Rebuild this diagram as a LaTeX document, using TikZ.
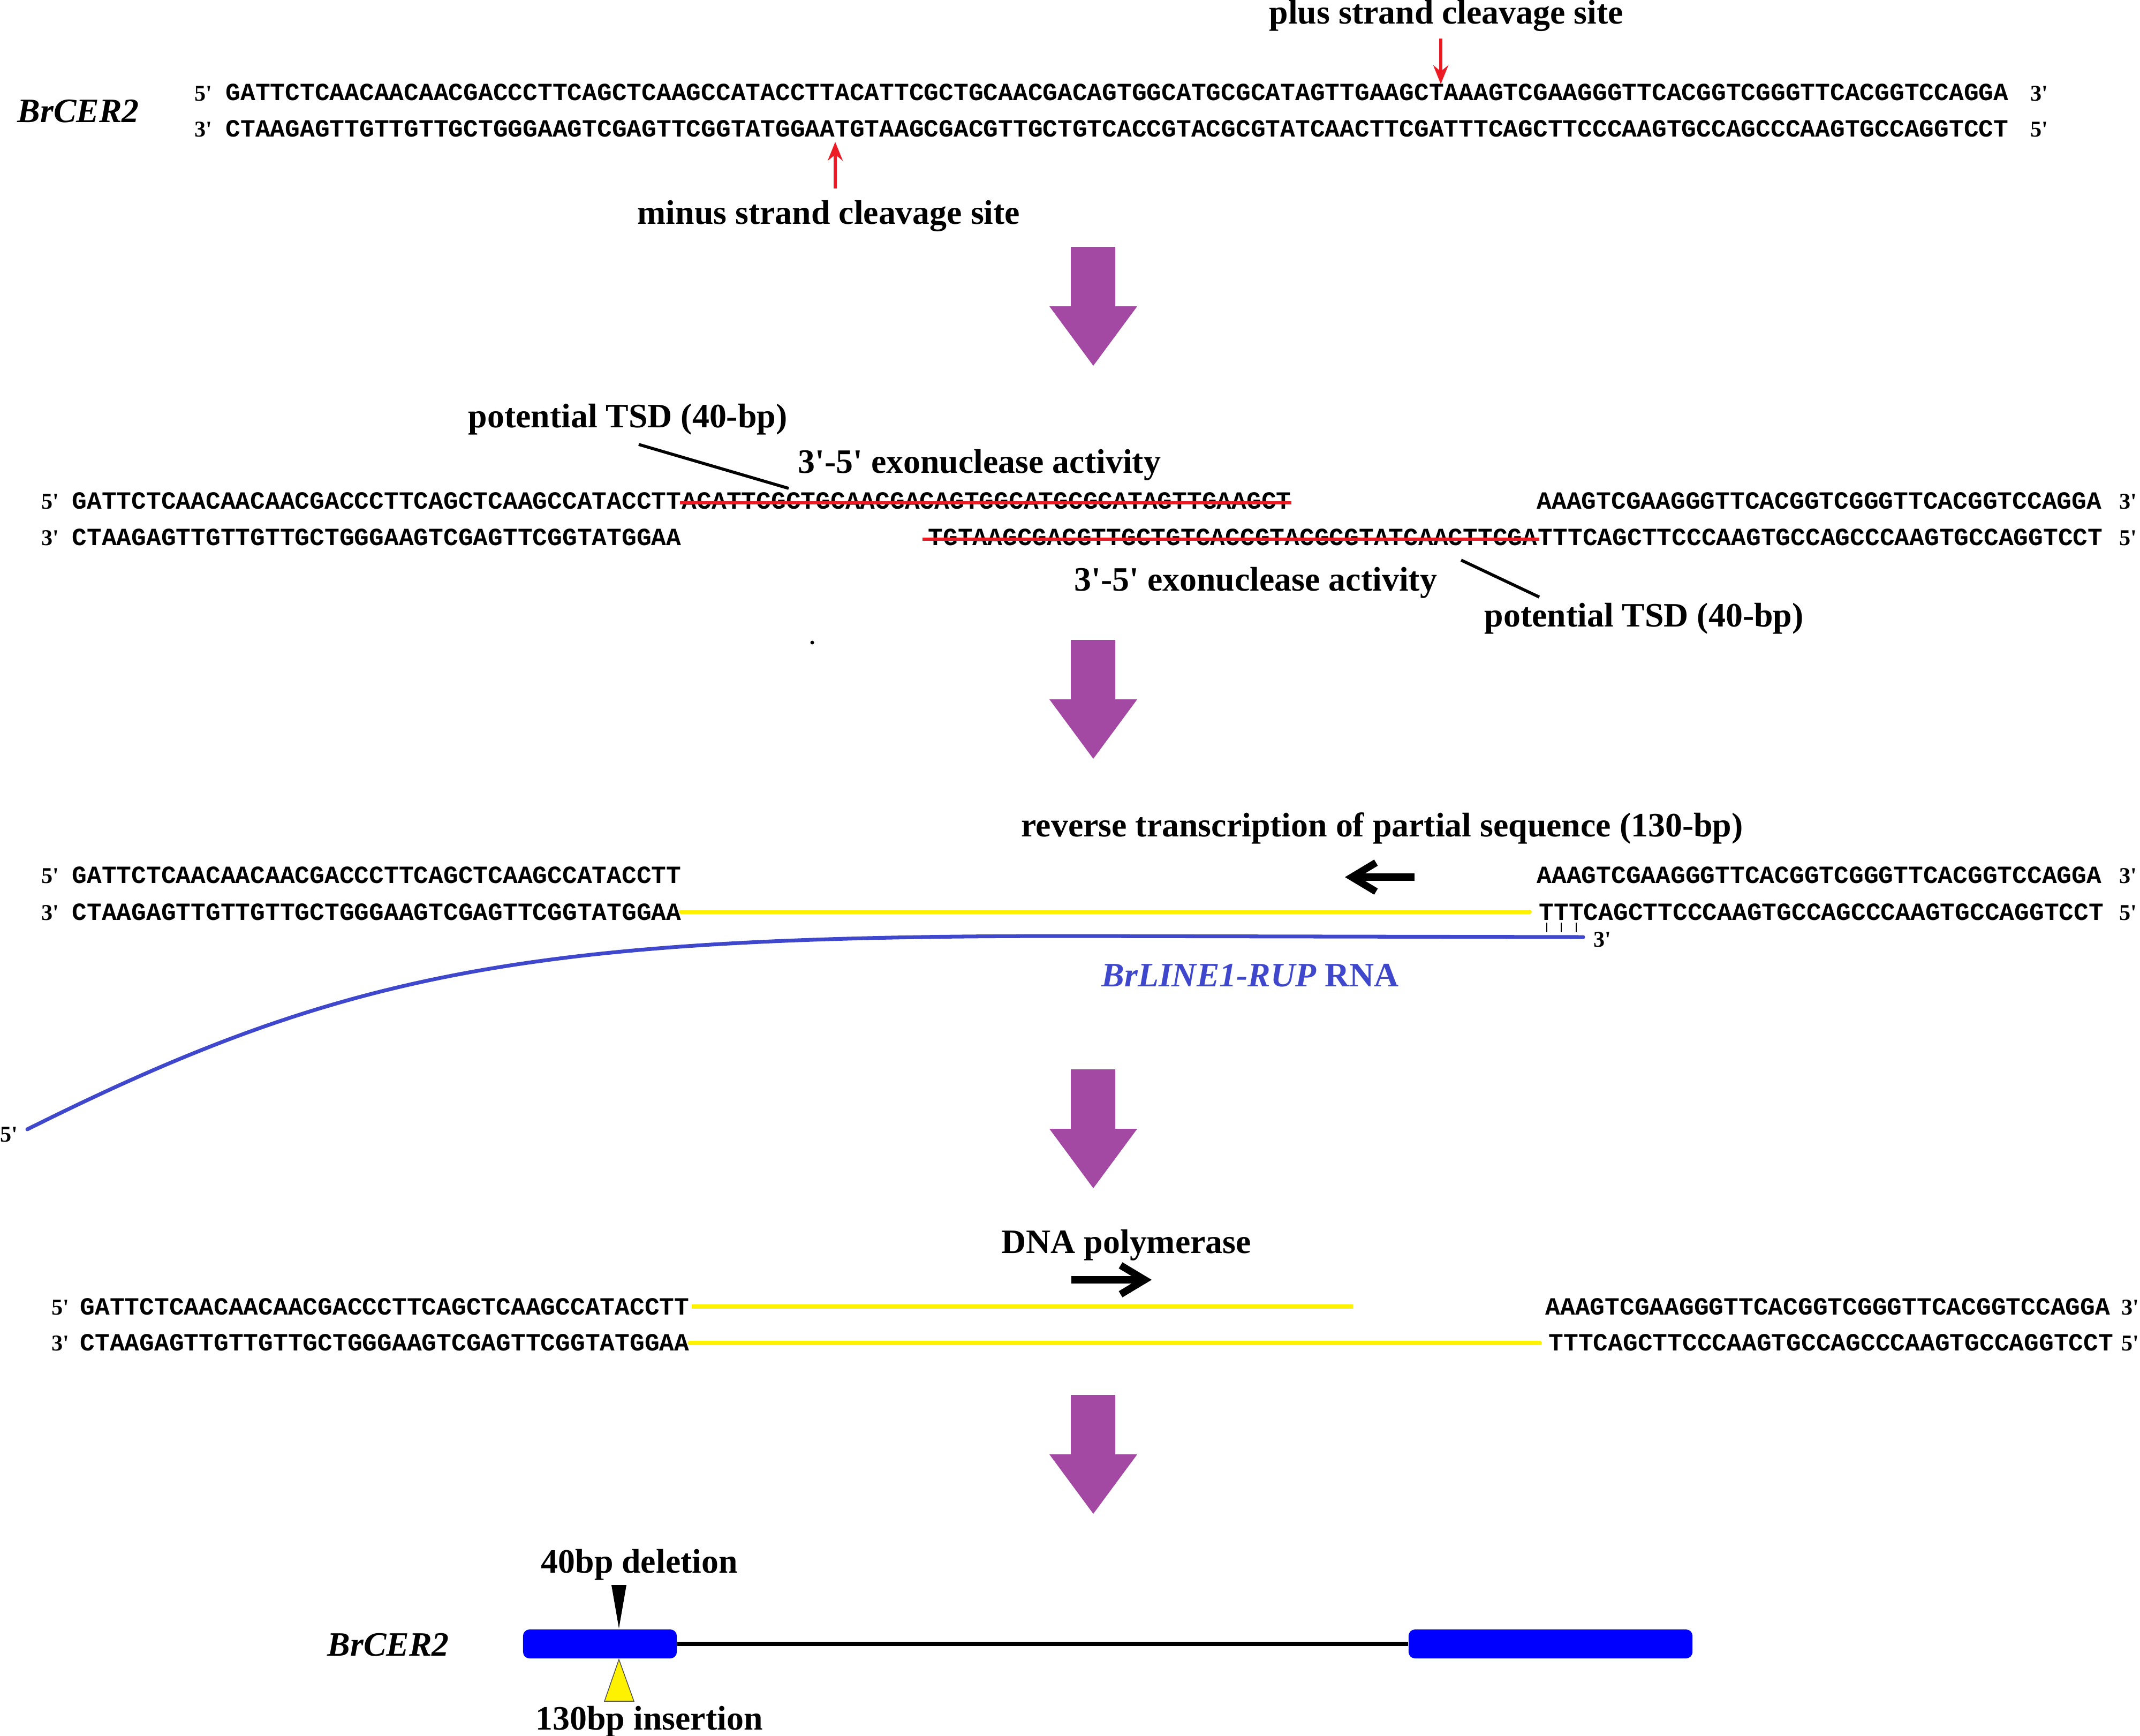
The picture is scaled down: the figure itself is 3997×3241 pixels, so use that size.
\documentclass[tikz,border=0pt]{standalone}
\usepackage{fontspec}
\setmainfont{Liberation Serif}[Ligatures=TeXOff]
\newfontfamily\seqfamily{Liberation Mono}
\usetikzlibrary{arrows.meta,calc}
\definecolor{purp}{HTML}{A349A4}
\definecolor{redc}{HTML}{ED1C24}
\definecolor{yelc}{HTML}{FFF200}
\definecolor{bluec}{HTML}{3F48CC}
\definecolor{exonc}{HTML}{0000FF}
\tikzset{
 lbl/.style={font=\fontsize{18.15}{21}\selectfont\bfseries,inner sep=0pt,anchor=base west},
 lbli/.style={font=\fontsize{18.15}{21}\selectfont\bfseries\itshape,inner sep=0pt,anchor=base west},
 seqtxt/.style={font=\seqfamily\bfseries\fontsize{13.15}{15}\selectfont,inner sep=0pt,anchor=base west},
 endtxt/.style={font=\fontsize{12}{14}\selectfont\bfseries,inner sep=0pt,anchor=base west},
 strikeln/.style={draw=redc,line width=1.7pt},
 yline/.style={draw=yelc,line width=2.2pt,line cap=round},
 blueln/.style={draw=bluec,line width=2pt,line cap=round},
 tsdln/.style={draw=black,line width=1.6pt},
 redarr/.style={draw=redc,line width=1.5pt,-{Stealth[length=3.5mm,width=2.8mm]}},
 thickarr/.style={draw=black,line width=3.8pt,-{Straight Barb[length=4.5mm,width=5.4mm]}},
 exon/.style={fill=exonc,draw=none,rounded corners=0.12cm,minimum height=0.54cm,inner sep=0pt},
 procarrow/.pic={\fill[purp] (-42,0) -- (41,0) -- (41,111) -- (82,111) -- (0,222) -- (-82,111) -- (-42,111) -- cycle;}
}
\begin{document}
\begin{tikzpicture}[x=0.01cm,y=-0.01cm]
\useasboundingbox (0,0) rectangle (3997,3241);

% ---------- Row 1 ----------
\node[lbli] (g1) at (32,228) {BrCER2};
\node[endtxt] (r1a) at (363,188) {5'};
\node[seqtxt] (r1top) at (421,187) {GATTCTCAACAACAACGACCCTTCAGCTCAAGCCATACCTTACATTCGCTGCAACGACAGTGGCATGCGCATAGTTGAAGCTAAAGTCGAAGGGTTCACGGTCGGGTTCACGGTCCAGGA};
\node[endtxt] (r1b) at (3792,188) {3'};
\node[endtxt] (r1c) at (363,255) {3'};
\node[seqtxt] (r1bot) at (421,255) {CTAAGAGTTGTTGTTGCTGGGAAGTCGAGTTCGGTATGGAATGTAAGCGACGTTGCTGTCACCGTACGCGTATCAACTTCGATTTCAGCTTCCCAAGTGCCAGCCCAAGTGCCAGGTCCT};
\node[endtxt] (r1d) at (3792,255) {5'};
\node[lbl] (plus) at (2370,44) {plus strand cleavage site};
\node[lbl] (minus) at (1190,418) {minus strand cleavage site};
\coordinate (pa) at (2691,72);
\coordinate (pb) at (2691,157);
\draw[redarr] (pa) -- (pb);
\coordinate (ma) at (1560,352);
\coordinate (mb) at (1560,265);
\draw[redarr] (ma) -- (mb);

\pic at (2042,461) {procarrow};

% ---------- Row 2 ----------
\node[lbl] (tsd1) at (874,798) {potential TSD (40-bp)};
\node[lbl] (exo1) at (1490,883) {3'-5' exonuclease activity};
\coordinate (t1a) at (1193,830);
\coordinate (t1b) at (1473,912);
\draw[tsdln] (t1a) -- (t1b);
\node[endtxt] (r2a) at (77,950) {5'};
\node[seqtxt] (r2tl) at (134,950) {GATTCTCAACAACAACGACCCTTCAGCTCAAGCCATACCTT};
\node[seqtxt] (r2ts) at (r2tl.base east) {ACATTCGCTGCAACGACAGTGGCATGCGCATAGTTGAAGCT};
\draw[strikeln] ($(r2ts.base west)+(-3,-11)$) -- ($(r2ts.base east)+(0,-11)$);
\node[seqtxt] (r2tr) at (2870,950) {AAAGTCGAAGGGTTCACGGTCGGGTTCACGGTCCAGGA};
\node[endtxt] (r2b) at (3958,950) {3'};
\node[endtxt] (r2c) at (77,1018) {3'};
\node[seqtxt] (r2bl) at (134,1018) {CTAAGAGTTGTTGTTGCTGGGAAGTCGAGTTCGGTATGGAA};
\node[seqtxt] (r2bs) at (1733,1018) {TGTAAGCGACGTTGCTGTCACCGTACGCGTATCAACTTCGA};
\draw[strikeln] ($(r2bs.base west)+(-10,-11)$) -- ($(r2bs.base east)+(3,-11)$);
\node[seqtxt] (r2br) at (r2bs.base east) {TTTCAGCTTCCCAAGTGCCAGCCCAAGTGCCAGGTCCT};
\node[endtxt] (r2d) at (3958,1018) {5'};
\node[lbl] (exo2) at (2006,1103) {3'-5' exonuclease activity};
\coordinate (t2a) at (2729,1046);
\coordinate (t2b) at (2875,1115);
\draw[tsdln] (t2a) -- (t2b);
\node[lbl] (tsd2) at (2772,1170) {potential TSD (40-bp)};
\fill (1517,1200) circle[radius=1pt];

\pic at (2042,1195) {procarrow};

% ---------- Row 3 ----------
\node[lbl] (rt) at (1907,1562) {reverse transcription of partial sequence (130-bp)};
\coordinate (la) at (2642,1638);
\coordinate (lb) at (2512,1638);
\draw[thickarr] (la) -- (lb);
\node[endtxt] (r3a) at (77,1649) {5'};
\node[seqtxt] (r3tl) at (134,1649) {GATTCTCAACAACAACGACCCTTCAGCTCAAGCCATACCTT};
\node[seqtxt] (r3tr) at (2870,1649) {AAAGTCGAAGGGTTCACGGTCGGGTTCACGGTCCAGGA};
\node[endtxt] (r3b) at (3958,1649) {3'};
\node[endtxt] (r3c) at (77,1718) {3'};
\node[seqtxt] (r3bl) at (134,1718) {CTAAGAGTTGTTGTTGCTGGGAAGTCGAGTTCGGTATGGAA};
\node[seqtxt] (r3br) at (2874,1718) {TTTCAGCTTCCCAAGTGCCAGCCCAAGTGCCAGGTCCT};
\node[endtxt] (r3d) at (3958,1718) {5'};
\coordinate (y3a) at (1272,1703);
\coordinate (y3b) at (2857,1703);
\draw[yline] (y3a) -- (y3b);
\foreach \i/\xx in {1/2889,2/2916,3/2944}{
  \coordinate (tk\i a) at (\xx,1723);
  \coordinate (tk\i b) at (\xx,1741);
  \draw[line width=0.7pt] (tk\i a) -- (tk\i b);
}
\coordinate (rna5) at (51,2109);
\coordinate (rnam) at (2000,1748);
\coordinate (rna3) at (2957,1750);
\draw[blueln] (rna5) .. controls (651,1809) and (1000,1748) .. (rnam) -- (rna3);
\node[endtxt] (rna3l) at (2976,1768) {3'};
\node[endtxt] (rna5l) at (0,2132) {5'};
\node[lbl,text=bluec] (rnal) at (2057,1842) {\textit{BrLINE1-RUP} RNA};

\pic at (2042,1997) {procarrow};

% ---------- Row 4 ----------
\node[lbl] (pol) at (1870,2340) {DNA polymerase};
\coordinate (ra) at (2001,2390);
\coordinate (rb) at (2151,2390);
\draw[thickarr] (ra) -- (rb);
\node[endtxt] (r4a) at (96,2455) {5'};
\node[seqtxt] (r4tl) at (149,2455) {GATTCTCAACAACAACGACCCTTCAGCTCAAGCCATACCTT};
\node[seqtxt] (r4tr) at (2886,2455) {AAAGTCGAAGGGTTCACGGTCGGGTTCACGGTCCAGGA};
\node[endtxt] (r4b) at (3962,2455) {3'};
\node[endtxt] (r4c) at (96,2522) {3'};
\node[seqtxt] (r4bl) at (149,2522) {CTAAGAGTTGTTGTTGCTGGGAAGTCGAGTTCGGTATGGAA};
\node[seqtxt] (r4br) at (2892,2522) {TTTCAGCTTCCCAAGTGCCAGCCCAAGTGCCAGGTCCT};
\node[endtxt] (r4d) at (3962,2522) {5'};
\coordinate (y4a) at (1292,2440);
\coordinate (y4b) at (2527,2440);
\draw[yline,line cap=butt] (y4a) -- (y4b);
\coordinate (y4c) at (1288,2508);
\coordinate (y4d) at (2876,2508);
\draw[yline] (y4c) -- (y4d);

\pic at (2042,2605) {procarrow};

% ---------- Row 5 ----------
\node[lbl] (del) at (1010,2937) {40bp deletion};
\node[lbli] (g2) at (611,3092) {BrCER2};
\node[exon,minimum width=2.87cm] (ex1) at (1120.5,3070) {};
\node[exon,minimum width=5.30cm] (ex2) at (2896,3070) {};
\draw[line width=2.5pt] (ex1.east) -- (ex2.west);
\fill (1142,2960) -- (1170,2960) -- (1156,3041) -- cycle;
\filldraw[fill=yelc,draw=black!70,line width=0.4pt] (1129,3177) -- (1184,3177) -- (1156,3099) -- cycle;
\node[lbl] (ins) at (1000,3230) {130bp insertion};
\end{tikzpicture}
\end{document}
